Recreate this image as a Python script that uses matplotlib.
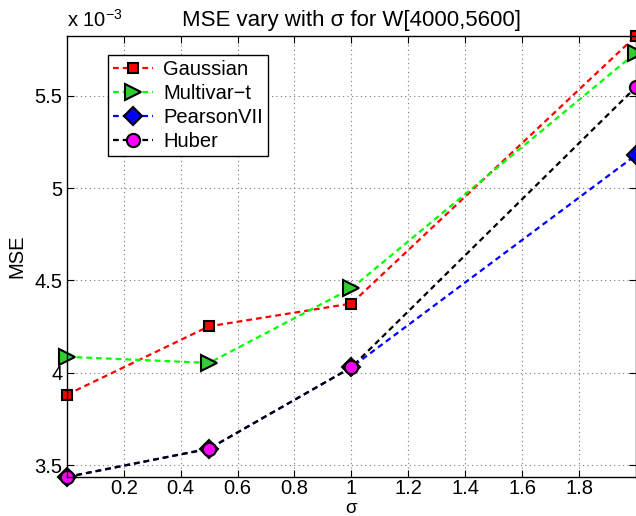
import matplotlib
matplotlib.use('Agg')
import matplotlib.pyplot as plt
from matplotlib.ticker import FuncFormatter

plt.rcParams['font.family'] = ['Liberation Sans', 'DejaVu Sans']

# data (MSE values, real units)
sigma = [0.0, 0.5, 1.0, 2.0]
gaussian = [3.882e-3, 4.252e-3, 4.375e-3, 5.822e-3]
multivar_t = [4.087e-3, 4.054e-3, 4.457e-3, 5.732e-3]
pearson7 = [3.437e-3, 3.590e-3, 4.030e-3, 5.178e-3]
huber = [3.437e-3, 3.590e-3, 4.030e-3, 5.546e-3]

xticks = [0.2, 0.4, 0.6, 0.8, 1.0, 1.2, 1.4, 1.6, 1.8]
yticks = [3.5e-3, 4.0e-3, 4.5e-3, 5.0e-3, 5.5e-3]

fig = plt.figure(figsize=(6.36, 5.16), dpi=100)
ax = fig.add_axes([0.105, 0.0756, 0.895, 0.8546])

series = [
    (gaussian, 'r', 's', 'r', 7.5, 'Gaussian'),
    (multivar_t, 'lime', '>', 'limegreen', 11, 'Multivar\u2212t'),
    (pearson7, 'b', 'D', 'b', 9, 'PearsonVII'),
    (huber, 'k', 'o', 'magenta', 9.5, 'Huber'),
]
for vals, lc, mk, fc, ms, lab in series:
    ax.plot(sigma, vals, color=lc, lw=1.6, dashes=(2.6, 1.8), marker=mk,
            markersize=ms, markerfacecolor=fc, markeredgecolor='k',
            markeredgewidth=1.5, label=lab, clip_on=False)

allv = gaussian + multivar_t + pearson7 + huber
ax.set_xlim(0, 2)
ax.set_ylim(min(allv), max(allv))
ax.set_xticks(xticks)
ax.set_yticks(yticks)
ax.xaxis.set_major_formatter(FuncFormatter(lambda v, p: '%g' % round(v, 2)))
ax.yaxis.set_major_formatter(FuncFormatter(lambda v, p: '%g' % round(v * 1e3, 2)))
ax.tick_params(direction='in', top=True, right=True, labelsize=14.5, length=5, width=0.8, pad=3)
ax.tick_params(axis='x', pad=1.5)
ax.grid(True, color='#777777', linestyle=(0, (1, 3)), linewidth=0.8)
for s in ax.spines.values():
    s.set_linewidth(1.0)

ax.set_title('MSE vary with \u03c3 for W[4000,5600]', fontsize=16, pad=7)
ax.set_xlabel('$\\mathregular{\\sigma}$', fontsize=13.5, va='baseline')
ax.xaxis.set_label_coords(0.5, -0.081)
ax.set_ylabel('MSE', fontsize=14.5, labelpad=6)
fig.text(0.105, 0.94, 'x 10$^{\\mathregular{-3}}$', fontsize=14.5, ha='left', va='bottom')

leg = ax.legend(loc='upper left', bbox_to_anchor=(0.072, 0.958), fontsize=14.5,
                frameon=True, fancybox=False, edgecolor='k', framealpha=1,
                borderpad=0.25, labelspacing=0.25, handlelength=2.0,
                handletextpad=0.5, borderaxespad=0)
leg.get_frame().set_linewidth(1.0)

fig.savefig('out.png', dpi=100)
